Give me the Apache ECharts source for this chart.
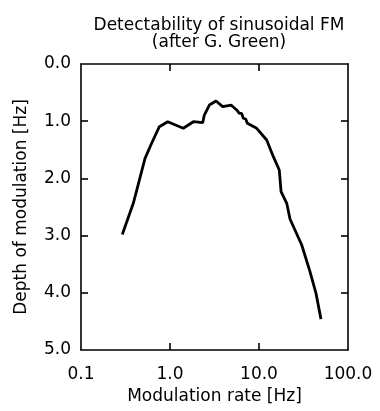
<!DOCTYPE html>
<html><head><meta charset="utf-8">
<script src="https://cdn.jsdelivr.net/npm/echarts@6/dist/echarts.min.js"></script>
<style>html,body{margin:0;padding:0;background:#fff}#c{width:380px;height:411px}</style>
</head><body><div id="c"></div>
<script>
const rates = [0.291,0.387,0.524,0.622,0.759,0.942,1.41,1.83,2.33,2.43,2.77,3.29,3.91,4.85,5.61,6.01,6.39,6.66,7.09,7.39,9.42,12.2,14.5,16.9,17.7,20.5,22.3,30.2,37.4,43.7,49.7];
const depths = [2.98,2.435,1.65,1.386,1.096,1.009,1.124,1.009,1.026,0.892,0.717,0.647,0.746,0.717,0.804,0.862,0.862,0.949,0.962,1.037,1.124,1.329,1.62,1.853,2.232,2.435,2.71,3.164,3.63,4.01,4.46];
const xTicks = [1, 10];
const yTicks = [1, 2, 3, 4];
const titleLines = ['Detectability of sinusoidal FM','(after G. Green)'];
const xName = 'Modulation rate [Hz]';
const yName = 'Depth of modulation [Hz]';

const FONT = 'DejaVu Sans';
const FS = 17;
const chart = echarts.init(document.getElementById('c'), null, {renderer:'canvas'});
const axisLine = {show:true, onZero:false, lineStyle:{color:'#000', width:1.6}};
const xTick = {show:true, inside:true, length:7, customValues:xTicks, lineStyle:{color:'#000', width:1.6}};
const yTick = {show:true, inside:true, length:7, customValues:yTicks, lineStyle:{color:'#000', width:1.6}};
chart.setOption({
  animation:false,
  backgroundColor:'#fff',
  title:{text:titleLines.join('\n'), left:214, textAlign:'center', top:12,
    textStyle:{fontFamily:FONT, fontSize:FS, fontWeight:'normal', color:'#000', lineHeight:17}},
  grid:{left:81, right:32, top:64, bottom:61},
  xAxis:[{type:'log', logBase:10, min:0.1, max:100, position:'bottom',
    name:xName, nameLocation:'middle', nameGap:38,
    nameTextStyle:{fontFamily:FONT, fontSize:FS, color:'#000'},
    axisLine, axisTick:xTick, splitLine:{show:false}, minorTick:{show:false},
    axisLabel:{fontFamily:FONT, fontSize:FS, color:'#000', margin:16,
      formatter:v=>Number(v).toFixed(1)}},
    {type:'log', logBase:10, min:0.1, max:100, position:'top',
    axisLine, axisTick:xTick, splitLine:{show:false}, axisLabel:{show:false}}],
  yAxis:[{type:'value', min:0, max:5, interval:1, inverse:true, position:'left',
    name:yName, nameLocation:'middle', nameGap:51,
    nameTextStyle:{fontFamily:FONT, fontSize:FS, color:'#000'},
    axisLine, axisTick:yTick, splitLine:{show:false},
    axisLabel:{fontFamily:FONT, fontSize:FS, color:'#000', margin:10,
      formatter:v=>Number(v).toFixed(1)}},
    {type:'value', min:0, max:5, interval:1, inverse:true, position:'right',
    axisLine, axisTick:yTick, splitLine:{show:false}, axisLabel:{show:false}}],
  series:[{type:'line', data:rates.map((r,i)=>[r,depths[i]]), showSymbol:false, symbol:'none',
    lineStyle:{color:'#000', width:2.8}, xAxisIndex:0, yAxisIndex:0}]
});
</script></body></html>
